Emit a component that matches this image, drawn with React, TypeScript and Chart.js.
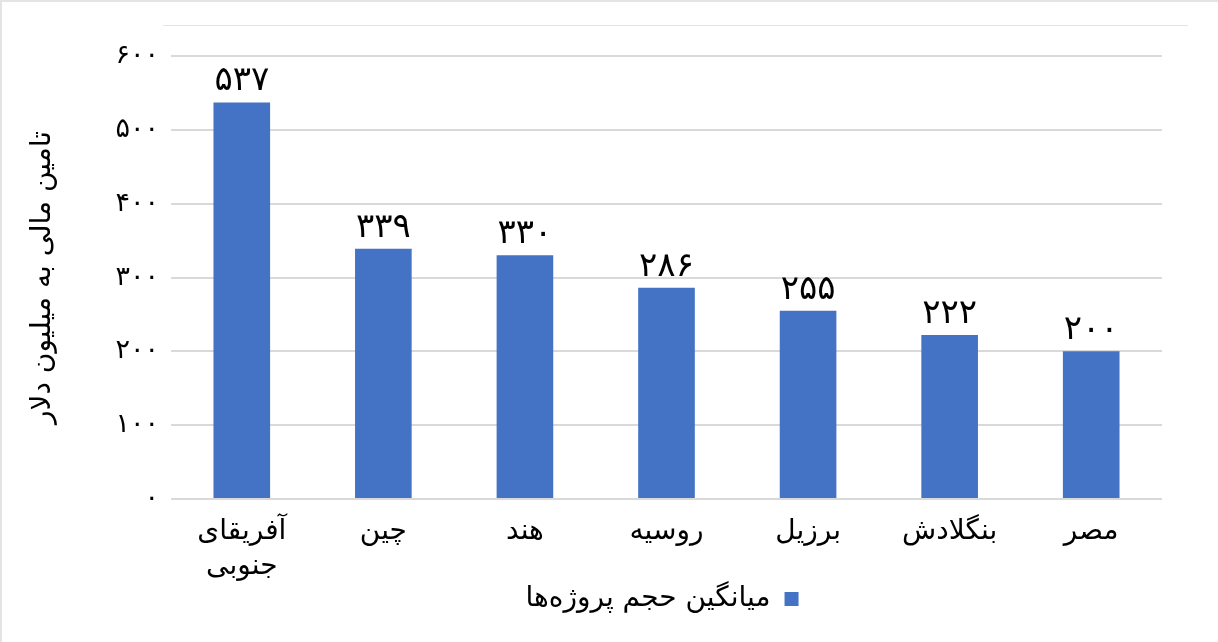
import React, { useEffect, useRef } from 'react';
import { Chart, registerables } from 'chart.js';

Chart.register(...registerables);

const toFa = (n: number | string) =>
  String(n).replace(/[0-9]/g, (d) => '۰۱۲۳۴۵۶۷۸۹'[Number(d)]);

const CATEGORIES = [['آفریقای', 'جنوبی'], 'چین', 'هند', 'روسیه', 'برزیل', 'بنگلادش', 'مصر'];
const VALUES = [537, 339, 330, 286, 255, 222, 200];
const SERIES_LABEL = 'میانگین حجم پروژه‌ها';
const Y_TITLE = 'تامین مالی به میلیون دلار';
const Y_MAX = 600;
const Y_STEP = 100;

const FONT = "'DejaVu Sans', 'Noto Sans', sans-serif";
const BAR_COLOR = '#4472c4';
const CANVAS_H = 640;
const PLOT_BOTTOM = 497;
const LEGEND_MID = 598;

// draws value labels above each bar
const valueLabels = {
  id: 'valueLabels',
  afterDatasetsDraw(chart) {
    const { ctx } = chart;
    const meta = chart.getDatasetMeta(0);
    ctx.save();
    ctx.font = `34px ${FONT}`;
    ctx.fillStyle = '#000';
    ctx.textAlign = 'center';
    ctx.textBaseline = 'bottom';
    meta.data.forEach((bar, i) => {
      ctx.fillText(toFa(VALUES[i]), bar.x, bar.y - 4);
    });
    ctx.restore();
  },
};

// legend sits centred under the plot area, a little higher than the default
const placeLegend = {
  id: 'placeLegend',
  afterLayout(chart) {
    const lg = chart.legend;
    if (!lg) return;
    lg.left += 80;
    lg.right += 80;
    const h = lg.height;
    lg.top = LEGEND_MID + 2 - h / 2;
    lg.bottom = lg.top + h;
  },
};

export default function App() {
  const canvasRef = useRef<HTMLCanvasElement>(null);

  useEffect(() => {
    const ctx = canvasRef.current?.getContext('2d');
    if (!ctx) return;
    const chart = new Chart(ctx, {
      type: 'bar',
      data: {
        labels: CATEGORIES,
        datasets: [
          {
            label: SERIES_LABEL,
            data: VALUES,
            backgroundColor: BAR_COLOR,
            barPercentage: 0.4,
            categoryPercentage: 1.0,
          },
        ],
      },
      options: {
        animation: false,
        responsive: false,
        layout: { padding: { top: 54, right: 56, left: 0, bottom: 0 } },
        plugins: {
          tooltip: { enabled: false },
          legend: {
            position: 'bottom',
            rtl: true,
            labels: {
              font: { family: FONT, size: 28 },
              color: '#000',
              boxWidth: 14,
              boxHeight: 14,
              padding: 4,
            },
          },
        },
        scales: {
          x: {
            grid: { display: false },
            border: { display: false },
            ticks: {
              font: { family: FONT, size: 28, lineHeight: 1.25 },
              color: '#000',
              padding: 7,
              maxRotation: 0,
            },
            afterFit: (scale) => {
              const lh = scale.chart.legend ? scale.chart.legend.height : 0;
              scale.height = CANVAS_H - PLOT_BOTTOM - lh;
            },
          },
          y: {
            min: 0,
            max: Y_MAX,
            border: { display: false },
            grid: { color: '#d9d9d9', lineWidth: 2, drawTicks: false },
            ticks: {
              stepSize: Y_STEP,
              font: { family: FONT, size: 27 },
              color: '#000',
              padding: 12,
              callback: (v) => toFa(v),
            },
            title: {
              display: true,
              text: Y_TITLE,
              font: { family: FONT, size: 28 },
              color: '#000',
              padding: { top: 24, bottom: 0 },
            },
            afterFit: (scale) => {
              scale.width = 169;
            },
          },
        },
      },
      plugins: [valueLabels, placeLegend],
    });
    return () => chart.destroy();
  }, []);

  return (
    <div
      style={{
        position: 'fixed',
        left: 0,
        top: 0,
        width: 1218,
        height: 642,
        background: '#fff',
        boxSizing: 'border-box',
        borderTop: '2px solid #e4e4e4',
        borderLeft: '2px solid #e4e4e4',
      }}
    >
      <div
        style={{
          position: 'absolute',
          left: 161,
          top: 23,
          width: 1025,
          height: 0,
          borderTop: '1px solid #e4e4e4',
        }}
      />
      <canvas
        ref={canvasRef}
        width={1216}
        height={CANVAS_H}
        style={{ position: 'absolute', left: 0, top: 0, width: 1216, height: CANVAS_H }}
      />
    </div>
  );
}
